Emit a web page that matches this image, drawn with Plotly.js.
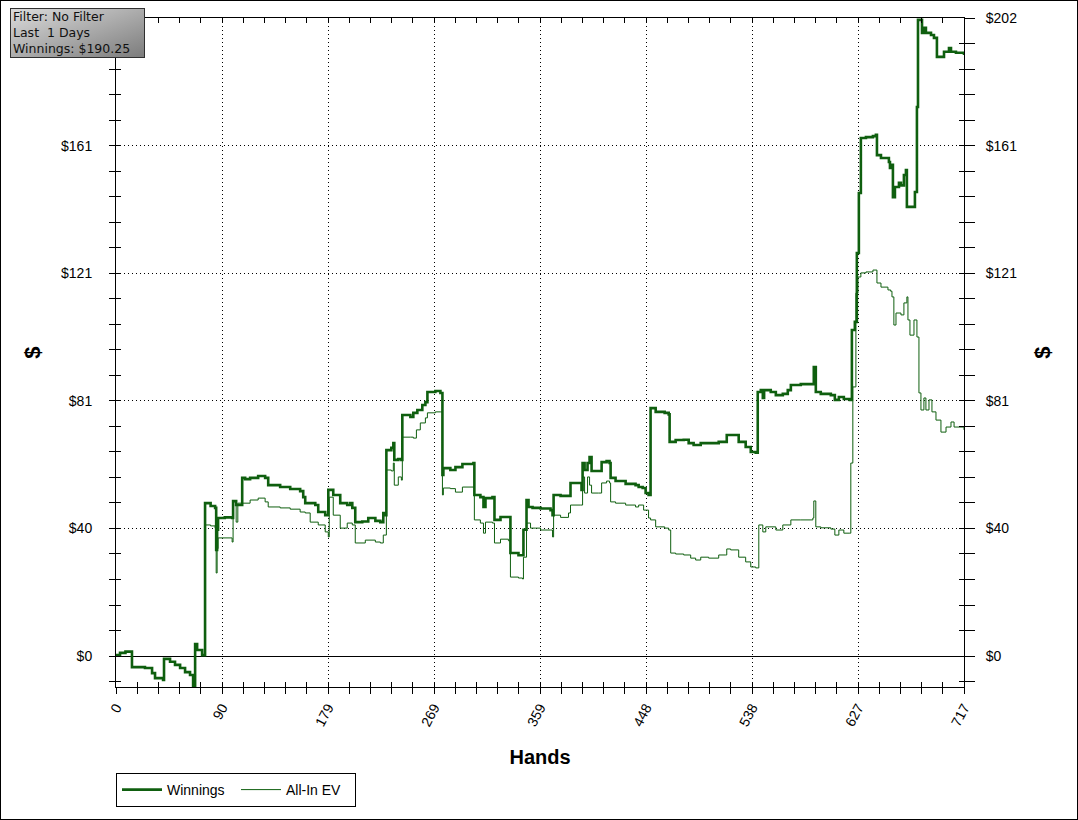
<!DOCTYPE html>
<html>
<head>
<meta charset="utf-8">
<script src="https://cdn.plot.ly/plotly-3.0.1.min.js"></script>
<style>
html,body{margin:0;padding:0;background:#fff;}
#chart{width:1076px;height:818px;border:1px solid #000;}
</style>
</head>
<body>
<div id="chart"></div>
<script>
// ---- data (hand number where each level starts, dollars) ----
const winHands = [0,3.4,8,13.5,24.5,30.5,33,39.8,40.6,45.7,49.9,54.2,58.4,62.6,65.2,66.9,68.6,72.8,
  75.3,80,83.8,84.7,85.5,86.3,92,98.2,99,101.6,106.7,109.2,113.4,120.2,126.1,128.7,138.8,147.3,155.7,158.3,160,168.5,171,176.9,
  179.5,183.7,189.6,195.5,198.1,199.8,202.3,208.2,213.3,219.3,223.5,226,227.7,228.6,232.8,234.5,235.3,238.7,241.3,242.1,
  248.9,251.4,254.8,259,261.6,263.3,270,274.3,276,276.8,282.7,287,292.9,302.2,303,308.1,310.7,312.4,318.3,320,325.1,331.8,
  333.5,340.3,343.7,344.5,347.1,348.8,352.2,359,367.4,369.1,370,375.9,381,384.3,391.1,393.6,394.5,396.2,398.7,400.4,402.1,
  408,410.6,414.8,417.3,418.2,422.4,430.9,439.3,441.9,445.3,447.8,450.3,452,456.3,463.9,467.3,468.1,473.2,480,484.2,488.4,
  494.4,502.8,509.6,515.5,516.4,519.7,526.5,532.4,536.7,540.9,542.6,545.2,546.9,548,553.6,557.9,563.8,568,570.6,579,589.2,
  590,591.7,595.9,604.4,607.8,611.2,615.4,620.5,622.2,624.7,626.4,628.1,629.8,634.1,640,642.5,643.4,646.8,653.5,654.4,656.1,
  656.9,658.6,662,663.7,666.2,667.9,668.7,674.7,675.5,677.2,678.1,679.8,681.5,683.1,684.8,689.1,691.6,694.1,697.5,700.1,
  704.3,706,710.2,717];
const winVals = [0.3,1.0,1.4,-3.5,-3.8,-5.4,-7,-7.6,-0.9,-1.8,-2.8,-3.8,-5.1,-6,-9.8,3.8,1.9,0.3,
  48.4,47.5,46.9,33.6,40,43.7,43.9,43.7,49.1,47.8,56.4,56,56.4,57,56.4,54.1,53.5,52.9,52.2,50.3,48.4,47.8,45.6,44.6,
  52.6,51,48.4,47.8,48.4,46.9,42.4,42.6,43.7,42.8,42.4,45.3,44.6,65.2,65.9,67.4,62.1,62.4,62.1,76.3,
  75.7,77,77.9,79.5,80.4,83.6,83.9,83.3,57.3,59.5,58.9,59.8,60.8,61.1,51,50.3,47.2,50,50.3,43.1,44,44,
  32.6,31.9,31.9,40,49.4,47.2,46.9,46.7,46.2,44.6,51,50.7,50.7,54.8,54.8,52.6,61.1,58.9,61.1,63,58.6,
  58.6,61.4,61.7,61.1,56.4,55.4,54.5,54.1,53.5,53.2,51.6,51,78.5,77.3,77,76.5,67.8,68.4,68.5,67.4,66.8,
  67.4,67.4,67.8,67.8,70,70,67.8,66.2,64.6,64.4,83.6,84.2,81.7,84.2,83.6,82.6,83,84.2,85.8,86.1,86.1,
  91.5,83.6,83,82.6,81.1,82,81.4,81.1,103.2,105.8,127.6,146.6,164,164.3,164.6,165,158.6,157.7,156.4,154.5,155.5,
  145.3,148.5,149.8,149,152.3,153.9,142.2,142.2,146.9,173.8,201.4,201.4,197.3,198.9,197.3,196.6,195.7,189.7,189.7,191.3,
  192.5,191.3,191,190.25];

const evHands = [0,3.4,8,13.5,24.5,30.5,33,39.8,40.6,45.7,49.9,54.2,58.4,62.6,65.2,66.9,68.6,72.8,
  75.3,80,83.8,84.7,85.5,86.3,98.2,99,101.6,103,113.4,120.2,126.1,128.7,138.8,147.3,155.7,160,164.2,171,176.9,179.5,
  180.3,183.7,189.6,195.5,199.8,202.3,210.8,219.3,223.5,226,228.6,232.8,234.5,235.3,238.7,241.3,242.1,248.9,251.4,254,
  257.3,261.6,263.3,270,274.3,276,276.8,282.7,287,292.9,302.2,303,308.1,310.7,312.4,318.3,320,325.1,331.8,333.5,340.3,
  343.7,344.5,347.1,350.5,354.7,359,367.4,369.1,370,375.9,382.6,384.3,392.8,394.5,396.2,398.7,400.4,402.1,408,410.6,
  414.8,417.3,418.2,422.4,430.9,439.3,441.9,446.1,450.3,452,456.3,463.9,467.3,469,473.2,480,485.9,490.1,494.4,501.1,
  509.6,515.5,516.4,519.7,526.5,532.4,536.7,540.9,543.5,546.9,549.4,557.9,563.8,570.6,579,589.2,590,591.7,595.9,604.4,
  607.8,611.2,615.4,620.5,621.3,623,625.6,627.3,629.8,634.1,640,643.4,646.8,652.7,655,656.1,657.7,659.5,663.7,666.2,
  668.7,669.6,671.3,674.7,677.2,678.9,680.6,683.1,684.8,687.4,689.9,693.3,697.5,701.8,706,708.6,717];
const evVals = [0.3,1.0,1.4,-3.5,-3.8,-5.4,-7,-7.6,-0.9,-1.8,-2.8,-3.8,-5.1,-6,-9.8,3.8,1.9,0.3,
  41.5,41.2,40.5,26.3,34,37.4,36.1,48.8,42.4,48.4,49.4,50,48.8,47.2,46.9,46.5,45.6,45.3,42.4,41.5,39.3,37.7,
  50.3,44.6,40.5,42.1,41.5,35.8,36.7,36.1,35.8,38.3,58.9,58.6,61.1,54.1,56.7,55.7,69.3,69.3,69,71.6,
  73.8,75.4,77,77.3,77.3,51,53.2,53,51.9,53.5,53.5,43.1,42.1,38.9,42.4,42.1,35.8,37,36.5,25,24.7,
  24.4,31.3,42.1,40.5,40.5,39.9,39.9,37.7,44.6,43.9,45.3,47.8,47.8,56.7,51.6,56.7,54.1,51.6,51.6,54.8,
  55.4,54.8,48.8,48.4,47.8,47.2,47.8,46.2,43.7,43.1,40.9,40.5,39.9,32.6,32.3,32,31,30.4,31.3,31,
  32,32,33.9,33.6,31.3,29.8,28.2,27.9,41.5,39.3,40.9,39.9,41.5,43.1,43.1,43.7,49.1,40.9,40.6,40.2,
  38.3,39.9,38.9,38.9,61.1,85.2,114.9,120,121.3,121.6,122.2,118.1,116.8,115.9,115.5,113.7,104.8,108.6,108,111.8,
  113.7,106.4,101.6,106.4,101,83.3,77.9,81.7,77.9,81.1,77.3,74.7,70.9,72.5,74.1,72.5,71.6];

const xTickVals = [0,89.625,179.25,268.875,358.5,448.125,537.75,627.375,717];
const xTickText = ['0','90','179','269','359','448','538','627','717'];
const yTickVals = [0,40.4,80.8,121.2,161.6,202];
const yTickText = ['$0','$40','$81','$121','$161','$202'];
const infoLines = ['Filter: No Filter','Last  1 Days','Winnings: $190.25'];
const seriesNames = ['Winnings','All-In EV'];

// ---- styling ----
const GREEN = '#0f5f0f';
const XR = [0,717], YR = [-9.8,202];
const FONT = 'Liberation Sans, Arial, sans-serif';
const PW = 848, PH = 669, ML = 115, MT = 17;
const px2x = p => (p - 1 - ML) / PW;          // page pixel -> paper x
const py2y = p => (MT + PH - (p - 1)) / PH;   // page pixel -> paper y
// on the left axis the top label sits under the info box in the reference, so it is left blank there
const leftTickText = yTickText.map((t, i) => i === yTickText.length - 1 ? '' : t);

const traces = [
  {x: winHands, y: winVals, name: seriesNames[0], type:'scatter', mode:'lines',
   line:{color:GREEN, width:2.6, shape:'hv'}, hoverinfo:'skip'},
  {x: evHands, y: evVals, name: seriesNames[1], type:'scatter', mode:'lines',
   line:{color:GREEN, width:1, shape:'hv'}, hoverinfo:'skip'},
  {x:[], y:[], xaxis:'x2', yaxis:'y2', showlegend:false, hoverinfo:'skip', type:'scatter'},
  {x:[], y:[], xaxis:'x', yaxis:'y3', showlegend:false, hoverinfo:'skip', type:'scatter'}
];

const gradSvg = '<svg xmlns="http://www.w3.org/2000/svg" width="135" height="50">' +
  '<defs><linearGradient id="g" x1="0" y1="0" x2="1" y2="1">' +
  '<stop offset="0" stop-color="#dcdcdc"/><stop offset="1" stop-color="#7c7c7c"/></linearGradient></defs>' +
  '<rect x="0.5" y="0.5" width="134" height="49" fill="url(#g)" stroke="#303030" stroke-width="1"/></svg>';

const infoY = [16, 32.5, 49];
const annotations = infoLines.map((t, i) => ({
  xref:'paper', yref:'paper', x:px2x(12), y:py2y(infoY[i]), xanchor:'left', yanchor:'middle',
  align:'left', showarrow:false, text:t, borderpad:0,
  font:{family:'DejaVu Sans, Verdana, sans-serif', size:12.5, color:'#111'}
}));

const layout = {
  width:1076, height:818,
  margin:{l:ML, r:1076-ML-PW, t:MT, b:818-MT-PH},
  paper_bgcolor:'#ffffff', plot_bgcolor:'#ffffff',
  font:{family:FONT, size:14, color:'#000'},
  showlegend:true,
  legend:{orientation:'h', x:0, xanchor:'left', y:py2y(773), yanchor:'top',
          bordercolor:'#000', borderwidth:1, bgcolor:'#fff',
          font:{family:FONT, size:14, color:'#000'}, itemwidth:40,
          entrywidth:64, entrywidthmode:'pixels', tracegroupgap:0},
  xaxis:{range:XR, showline:true, linecolor:'#000', linewidth:1, mirror:'ticks',
         ticks:'inside', ticklen:5, tickcolor:'#000', tickvals:xTickVals, ticktext:xTickText,
         tickangle:-62, tickfont:{family:FONT, size:14, color:'#000'}, ticklabelstandoff:6,
         showgrid:true, gridcolor:'#000', gridwidth:1, griddash:'1px,3px', zeroline:false,
         minor:{tick0:0, dtick:17.925, ticks:'inside', ticklen:5, tickcolor:'#000', showgrid:false},
         title:{text:'Hands', font:{family:FONT, size:20, color:'#000', weight:'bold'}, standoff:21}},
  xaxis2:{range:XR, overlaying:'x', anchor:'y', side:'bottom', showline:false,
          ticks:'outside', ticklen:6, tickcolor:'#000', tickvals:xTickVals, showticklabels:false,
          showgrid:false, zeroline:false,
          minor:{tick0:0, dtick:17.925, ticks:'outside', ticklen:6, tickcolor:'#000', showgrid:false}},
  yaxis:{range:YR, showline:true, linecolor:'#000', linewidth:1, mirror:'ticks',
         ticks:'inside', ticklen:5, tickcolor:'#000', tickvals:yTickVals, ticktext:leftTickText,
         tickfont:{family:FONT, size:14, color:'#000'}, ticklabelstandoff:20,
         showgrid:true, gridcolor:'#000', gridwidth:1, griddash:'1px,3px',
         zeroline:true, zerolinecolor:'#000', zerolinewidth:1,
         minor:{tick0:0, dtick:8.08, ticks:'inside', ticklen:5, tickcolor:'#000', showgrid:false},
         title:{text:'$', font:{family:FONT, size:22, color:'#000', weight:'bold'}, standoff:14}},
  yaxis2:{range:YR, overlaying:'y', anchor:'x', side:'left', showline:false,
          ticks:'outside', ticklen:6, tickcolor:'#000', tickvals:yTickVals, showticklabels:false,
          showgrid:false, zeroline:false,
          minor:{tick0:0, dtick:8.08, ticks:'outside', ticklen:6, tickcolor:'#000', showgrid:false}},
  yaxis3:{range:YR, overlaying:'y', anchor:'x', side:'right', showline:false,
          ticks:'outside', ticklen:10, tickcolor:'#000', tickvals:yTickVals, ticktext:yTickText,
          tickfont:{family:FONT, size:14, color:'#000'}, ticklabelstandoff:8,
          showgrid:false, zeroline:false,
          minor:{tick0:0, dtick:8.08, ticks:'outside', ticklen:10, tickcolor:'#000', showgrid:false},
          title:{text:'$', font:{family:FONT, size:22, color:'#000', weight:'bold'}, standoff:18}},
  images:[{source:'data:image/svg+xml;charset=utf-8,' + encodeURIComponent(gradSvg),
           xref:'paper', yref:'paper', x:px2x(10), y:py2y(8),
           sizex:135/PW, sizey:50/PH, sizing:'stretch', xanchor:'left', yanchor:'top', layer:'above'}],
  annotations: annotations
};

Plotly.newPlot('chart', traces, layout, {displayModeBar:false, staticPlot:true});
</script>
</body>
</html>
